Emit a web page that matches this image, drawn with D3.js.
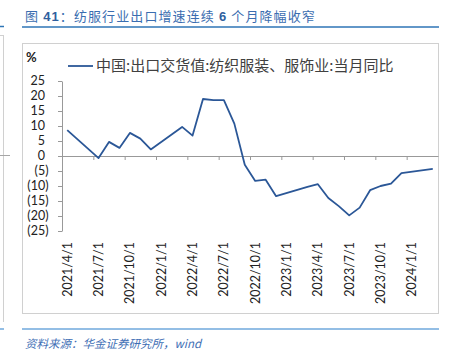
<!DOCTYPE html>
<html>
<head>
<meta charset="utf-8">
<script src="https://d3js.org/d3.v7.min.js"></script>
<style>
  body { margin: 0; background: #fff; }
  svg { display: block; }
  .num { font-family: Lato, "Liberation Sans", sans-serif; font-size: 12.5px; fill: #222; }
</style>
</head>
<body>
<svg id="chart" width="457" height="352"></svg>
<script>
// months shown on the category axis (2021/4 .. 2024/3)
const months = d3.timeMonth.range(new Date(2021, 3, 1), new Date(2024, 3, 1));
const fmtKey = d3.timeFormat("%Y/%-m");
const fmtLabel = d3.timeFormat("%Y/%-m/%-d");

// series: only the months that have a value (Jan/Feb often reported together)
const dates = ["2021/4","2021/7","2021/8","2021/9","2021/10","2021/11","2021/12",
               "2022/3","2022/4","2022/5","2022/6","2022/7","2022/8","2022/9",
               "2022/10","2022/11","2022/12","2023/3","2023/4","2023/5","2023/6",
               "2023/7","2023/8","2023/9","2023/10","2023/11","2023/12","2024/3"];
const values = [8.6,-0.7,4.7,2.7,7.7,5.8,2.2,
                9.7,6.8,19.0,18.6,18.6,10.8,-2.9,
                -8.3,-7.9,-13.4,-10.3,-9.4,-14.0,-16.7,
                -19.8,-17.2,-11.4,-10.0,-9.2,-5.7,-4.3];
const yTicks = [25,20,15,10,5,0,-5,-10,-15,-20,-25];

const title = "图 41：纺服行业出口增速连续 6 个月降幅收窄";
const legendName = "中国:出口交货值:纺织服装、服饰业:当月同比";
const source = "资料来源：华金证券研究所，wind";

const svg = d3.select("#chart");

// --- bits of the neighbouring panel cut off at the left edge
svg.append("line").attr("x1",0).attr("x2",4).attr("y1",26.5).attr("y2",26.5)
   .attr("stroke","#2e75b6").attr("stroke-width",1.5);
svg.append("line").attr("x1",0).attr("x2",4).attr("y1",35.5).attr("y2",35.5)
   .attr("stroke","#d0d0d0");
svg.append("line").attr("x1",3.5).attr("x2",3.5).attr("y1",35).attr("y2",322)
   .attr("stroke","#d0d0d0");
svg.append("line").attr("x1",0).attr("x2",10).attr("y1",155.5).attr("y2",155.5)
   .attr("stroke","#a6a6a6");
svg.append("line").attr("x1",0).attr("x2",4).attr("y1",329).attr("y2",329)
   .attr("stroke","#6fa8dc").attr("stroke-width",1.5);

// --- title and rules
const t = svg.append("text").attr("x",25).attr("y",21)
   .style("font-family",'"Noto Sans CJK SC", sans-serif')
   .style("font-size","13px").style("letter-spacing","1.1px")
   .attr("fill","#3a6db0");
title.split(/(\d+)/).forEach(s => {
  if (!s) return;
  const sp = t.append("tspan").text(s);
  if (/\d/.test(s)) sp.style("font-family","\"Liberation Sans\", sans-serif").style("font-weight","bold").attr("fill","#2f5f9e");
});
svg.append("line").attr("x1",22).attr("x2",439).attr("y1",27).attr("y2",27)
   .attr("stroke","#2e75b6").attr("stroke-width",1.3);
svg.append("line").attr("x1",22).attr("x2",439).attr("y1",329).attr("y2",329)
   .attr("stroke","#6fa8dc").attr("stroke-width",1.5);
svg.append("text").attr("x",25).attr("y",348).text(source)
   .style("font-family",'"Noto Sans CJK SC", sans-serif')
   .style("font-size","11.5px").style("font-style","italic")
   .attr("fill","#3f6fb5");

// --- chart frame
svg.append("rect").attr("x",22.5).attr("y",43.5).attr("width",416).attr("height",270)
   .attr("fill","none").attr("stroke","#d0d0d0");

// --- scales
const x = d3.scaleBand().domain(months.map(fmtKey)).range([62, 438]).padding(0);
const xc = d => x(d) + x.bandwidth() / 2;
const xEdge = d3.scaleLinear().domain([0, months.length]).range([62, 438]);
const y = d3.scaleLinear().domain([-25, 25]).range([231, 81]);

// y axis
const yAxis = svg.append("g").attr("transform","translate(62,0)")
  .call(d3.axisLeft(y).tickValues(yTicks).tickSize(4).tickSizeOuter(0).tickFormat(""));
yAxis.selectAll("path, line").attr("stroke","#999");

svg.append("g").selectAll("text").data(yTicks).join("text")
  .attr("class","num")
  .attr("x", d => d < 0 ? 48.5 : 45)
  .attr("y", d => y(d)).attr("dy","0.35em")
  .attr("text-anchor","end")
  .text(d => d < 0 ? "(" + (-d) + ")" : d);

svg.append("text").attr("x",26).attr("y",62).text("%")
  .style("font-family","Lato, sans-serif").style("font-size","13px")
  .style("font-weight","bold").attr("fill","#222");

// x axis on the zero line, tick marks every 3 months at category edges
const xAxis = svg.append("g").attr("transform",`translate(0,${y(0)})`)
  .call(d3.axisBottom(xEdge).tickValues(d3.range(3, months.length, 3)).tickSize(4).tickSizeOuter(0).tickFormat(""));
xAxis.selectAll("path, line").attr("stroke","#999");

const labelMonths = months.filter((m, i) => i % 3 === 0);
svg.append("g").selectAll("text").data(labelMonths).join("text")
  .attr("class","num")
  .attr("transform", d => `translate(${xc(fmtKey(d))},242) rotate(-90)`)
  .attr("dy","0.35em")
  .attr("text-anchor","end")
  .text(d => fmtLabel(d));

// --- series line
const pts = dates.map((d, i) => [xc(d), y(values[i])]);
svg.append("path").datum(pts)
  .attr("d", d3.line())
  .attr("fill","none").attr("stroke","#2b5797").attr("stroke-width",1.8)
  .attr("stroke-linejoin","round");

// --- legend
svg.append("line").attr("x1",68).attr("x2",93).attr("y1",66).attr("y2",66)
  .attr("stroke","#2b5797").attr("stroke-width",1.8);
svg.append("text").attr("x",96).attr("y",71).text(legendName)
  .style("font-family",'"Noto Sans CJK SC", sans-serif')
  .style("font-size","15px").attr("fill","#404040");
</script>
</body>
</html>
